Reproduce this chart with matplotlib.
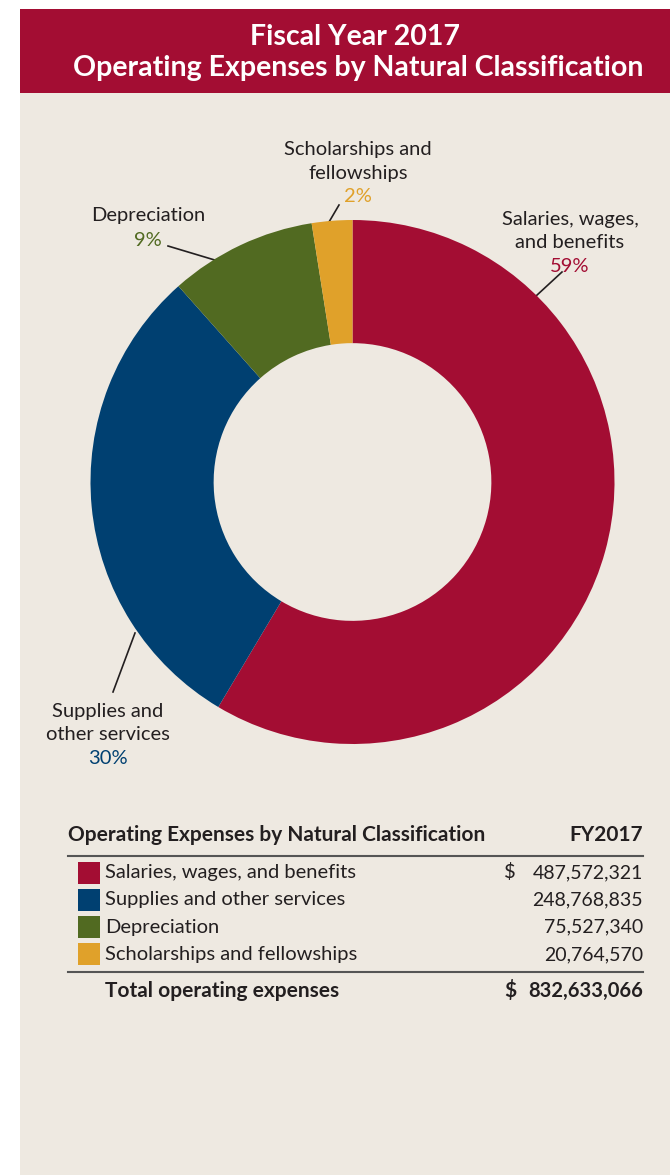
import matplotlib
matplotlib.use("Agg")
import matplotlib.pyplot as plt
from matplotlib.patches import Rectangle

plt.rcParams['font.family'] = ['Lato', 'DejaVu Sans']

# data
CATEGORIES = ['Salaries, wages, and benefits', 'Supplies and other services',
              'Depreciation', 'Scholarships and fellowships']
VALUES = [487572321, 248768835, 75527340, 20764570]
COLORS = ['#A30D33', '#004071', '#516A21', '#E0A12A']
PIE_LABELS = ['Salaries, wages,\nand benefits', 'Supplies and\nother services',
              'Depreciation', 'Scholarships and\nfellowships']

BEIGE = '#EEE9E1'
RED = '#A30D33'
LINE = '#555555'
INK = '#231F20'

W, H = 670, 1175


def main():
    fig = plt.figure(figsize=(W / 100, H / 100), dpi=100)
    fig.patch.set_facecolor('white')

    # overlay axes in pixel coordinates (y down)
    ax = fig.add_axes([0, 0, 1, 1])
    ax.set_xlim(0, W)
    ax.set_ylim(H, 0)
    ax.axis('off')

    ax.add_patch(Rectangle((20, 9), W - 20, H - 9, color=BEIGE, lw=0))
    ax.add_patch(Rectangle((20, 9), W - 20, 84, color=RED, lw=0))
    ax.text(355, 37, 'Fiscal Year 2017', color='white', fontsize=20.5,
            fontweight='bold', ha='center', va='center')
    ax.text(358, 68, 'Operating Expenses by Natural Classification',
            color='white', fontsize=20.5, fontweight='bold',
            ha='center', va='center')

    # donut
    cx, cy, r = 352.5, 482, 262
    pad = 1.05
    pax = fig.add_axes([(cx - r * pad) / W, (H - cy - r * pad) / H,
                        2 * r * pad / W, 2 * r * pad / H])
    pax.pie(VALUES, colors=COLORS, startangle=90, counterclock=False,
            radius=1, wedgeprops=dict(width=0.47, linewidth=0))
    pax.set_xlim(-pad, pad)
    pax.set_ylim(-pad, pad)
    pax.set_aspect('equal')
    pax.axis('off')

    total = sum(VALUES)
    pcts = [f'{round(v / total * 100)}%' for v in VALUES]

    # label placement (pixels): text center x, top line y, leader line
    label_pos = [
        (570, 219, [(562, 272), (536, 296)]),
        (108, 711, [(135, 633), (113, 692)]),
        (148, 216, [(168, 246), (218, 261)]),
        (358, 150, [(339, 205), (329, 222)]),
    ]
    fs = 14.5
    for lab, pct, col, (x, y, seg) in zip(PIE_LABELS, pcts, COLORS, label_pos):
        lines = lab.split('\n')
        for i, ln in enumerate(lines):
            ax.text(x, y + i * 23, ln, fontsize=fs, color=INK,
                    ha='center', va='center')
        ax.text(x, y + len(lines) * 23 + 1, pct, fontsize=fs, color=col,
                ha='center', va='center')
        ax.plot([seg[0][0], seg[1][0]], [seg[0][1], seg[1][1]],
                color=INK, lw=1.2)

    # table
    left, right, dollar_x = 68, 643, 510
    tfs = 14.5
    ax.text(left, 835, 'Operating Expenses by Natural Classification',
            fontsize=15, fontweight='bold', color=INK, va='center')
    ax.text(right, 835, 'FY2017', fontsize=15, fontweight='bold',
            color=INK, ha='right', va='center')
    ax.plot([left, right], [855.5, 855.5], color=LINE, lw=1.5)
    for i, (cat, val, col) in enumerate(zip(CATEGORIES, VALUES, COLORS)):
        y = 872.5 + i * 27.3
        ax.add_patch(Rectangle((78, y - 11), 22, 22, color=col, lw=0))
        ax.text(105, y, cat, fontsize=tfs, color=INK, va='center')
        ax.text(right, y, f'{val:,}', fontsize=14, color=INK,
                ha='right', va='center')
        if i == 0:
            ax.text(dollar_x, y, '$', fontsize=tfs, color=INK,
                    ha='center', va='center')
    ax.plot([left, right], [971.5, 971.5], color=LINE, lw=1.5)
    ax.text(105, 991, 'Total operating expenses', fontsize=15,
            fontweight='bold', color=INK, va='center')
    ax.text(dollar_x, 991, '$', fontsize=15, fontweight='bold',
            color=INK, ha='center', va='center')
    ax.text(right, 991, f'{total:,}', fontsize=14.5, fontweight='bold',
            color=INK, ha='right', va='center')

    fig.savefig('out.png', dpi=100, facecolor=fig.get_facecolor())


if __name__ == '__main__':
    main()
